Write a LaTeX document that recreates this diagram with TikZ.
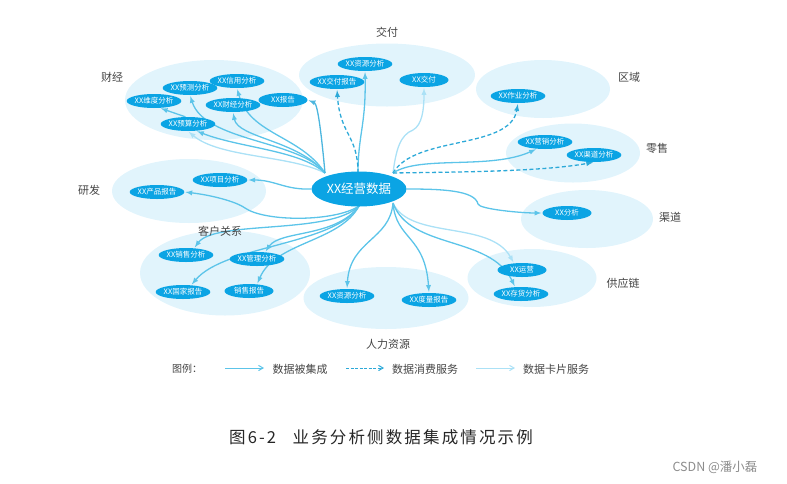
\documentclass[tikz,border=0pt]{standalone}
\usepackage{fontspec}
\setmainfont{Noto Sans CJK SC}
\newfontfamily\capfont[LetterSpace=13]{Noto Sans CJK SC}
\usepackage{xcolor}
\usepackage{tikz}
\usetikzlibrary{arrows,shapes}
\definecolor{hubblue}{HTML}{0BA4E4}
\definecolor{areablue}{HTML}{E1F4FC}
\definecolor{linkblue}{HTML}{5CC4E9}
\definecolor{dashblue}{HTML}{2CA9D8}
\definecolor{lightblue}{HTML}{ABE1F6}
\definecolor{labelgray}{HTML}{444444}
\pgfdeclarelayer{under}
\pgfsetlayers{under,main}
\tikzset{
  area/.style={ellipse,fill=areablue,inner sep=0pt},
  report/.style={ellipse,fill=hubblue,text=white,font=\fontsize{7.5}{8}\selectfont,inner sep=0pt,minimum width=49pt,minimum height=14pt},
  hub/.style={ellipse,fill=hubblue,text=white,font=\fontsize{12.5}{14}\selectfont,inner sep=0pt,minimum width=95pt,minimum height=35pt},
  title/.style={text=labelgray,font=\fontsize{11}{13}\selectfont,inner sep=0pt},
  integrated/.style={draw=linkblue,line width=1.3pt,-latex,shorten >=1pt},
  consumed/.style={draw=dashblue,line width=1.3pt,dashed,dash pattern=on 4pt off 2.5pt,-latex,shorten >=1pt},
  card/.style={draw=lightblue,line width=1.3pt,-latex,shorten >=1pt},
  legendtip/.style={-angle 60,shorten >=0pt,line width=1pt}
}
\begin{document}
\begin{tikzpicture}[x=1pt,y=-1pt]
\useasboundingbox (0,0) rectangle (787,483);

% hub and reports
\node[hub] (hub) at (359,189) {XX经营数据};
\coordinate (hubnw) at (325,173);
\coordinate (hubn) at (358,173);
\coordinate (hubne) at (393,173);
\coordinate (hubsw) at (359,206);
\coordinate (hubse) at (393,203);

\node[report] (credit) at (237,81) {XX信用分析};
\node[report] (forecast) at (190,88) {XX预测分析};
\node[report] (dimension) at (154,101) {XX维度分析};
\node[report] (finance) at (233,105) {XX财经分析};
\node[report] (report) at (283,100) {XX报告};
\node[report] (budget) at (188,124) {XX预算分析};

\node[report] (resource) at (365,64) {XX资源分析};
\node[report] (payreport) at (337,82) {XX交付报告};
\node[report] (delivery) at (424,80) {XX交付};
\node[report] (operation) at (518,96) {XX作业分析};
\node[report] (marketing) at (545,142) {XX营销分析};
\node[report] (channel) at (594,155) {XX渠道分析};
\node[report] (analysis) at (567,213) {XX分析};

\node[report] (project) at (220,180) {XX项目分析};
\node[report] (product) at (157,192) {XX产品报告};
\node[report] (salesa) at (186,255) {XX销售分析};
\node[report] (manage) at (257,259) {XX管理分析};
\node[report] (country) at (183,292) {XX国家报告};
\node[report] (salesr) at (249,291) {销售报告};
\node[report] (hr) at (347,296) {XX资源分析};
\node[report] (measure) at (429,300) {XX度量报告};
\node[report] (running) at (522,270) {XX运营};
\node[report] (stock) at (521,294) {XX存货分析};

% area names
\node[title] (tfinance) at (112,77) {财经};
\node[title] (tdelivery) at (387,32) {交付};
\node[title] (tregion) at (629,77) {区域};
\node[title] (tretail) at (657,148) {零售};
\node[title] (tchannel) at (670,217) {渠道};
\node[title] (tsupply) at (623,283) {供应链};
\node[title] (thr) at (388,344) {人力资源};
\node[title] (tcustomer) at (220,231) {客户关系};
\node[title] (tresearch) at (89,190) {研发};

\begin{pgfonlayer}{under}
\node[area,minimum width=178pt,minimum height=80pt] (afinance) at (214,100) {};
\node[area,minimum width=176pt,minimum height=63pt] (adelivery) at (387,75) {};
\node[area,minimum width=134pt,minimum height=58pt] (aregion) at (543,89) {};
\node[area,minimum width=134pt,minimum height=59pt] (aretail) at (573,153) {};
\node[area,minimum width=132pt,minimum height=58pt] (achannel) at (587,219) {};
\node[area,minimum width=154pt,minimum height=64pt] (aresearch) at (189,191) {};
\node[area,minimum width=170pt,minimum height=85pt] (acustomer) at (225,273) {};
\node[area,minimum width=165pt,minimum height=62pt] (ahr) at (386,298) {};
\node[area,minimum width=129pt,minimum height=58pt] (asupply) at (532,278) {};

% finance
\draw[card] (hubnw) .. controls (290,155) and (220,158) .. (budget.south);
\draw[integrated] (hubnw) .. controls (300,150) and (240,148) .. (budget.-40);
\draw[integrated] (hubnw) .. controls (300,140) and (205,142) .. (forecast.south);
\draw[integrated] (hubnw) .. controls (298,140) and (238,138) .. (finance.south);
\draw[integrated] (hubnw) .. controls (300,135) and (250,135) .. (credit.south);
\draw[integrated] (budget.110) -- (dimension.-50);
\draw[integrated,draw=dashblue!85] (hubnw) .. controls (322,140) and (318,104) .. (report.east);

% delivery
\draw[integrated] (hubn) .. controls (358,135) and (366,125) .. (resource.south);
\draw[consumed] (hubn) .. controls (358,135) and (340,135) .. (payreport.south);
\draw[card] (hubne) .. controls (396,150) and (400,135) .. (413,130) .. controls (422,125) and (424,110) .. (delivery.south);

% region and retail
\draw[consumed] (hubne) .. controls (415,135) and (510,150) .. (operation.south);
\draw[integrated] (hubne) .. controls (420,155) and (490,170) .. (marketing.-140);
\draw[consumed] (hubne) .. controls (450,172) and (540,172) .. (channel.south);

% channel, research
\draw[integrated] (hub.east) .. controls (440,189) and (475,190) .. (478,204) .. controls (479,209) and (520,213) .. (analysis.west);
\draw[integrated] (hub.west) .. controls (285,190) and (275,180) .. (project.east);
\draw[integrated] (hubsw) .. controls (335,222) and (265,222) .. (245,208) .. controls (235,201) and (210,195) .. (product.east);

% customer
\draw[integrated] (hubsw) .. controls (330,235) and (215,220) .. (salesa.40);
\draw[integrated] (hubsw) .. controls (335,238) and (280,230) .. (manage.40);
\draw[integrated] (hubsw) .. controls (335,245) and (225,245) .. (country.40);
\draw[integrated] (hubsw) .. controls (340,242) and (275,242) .. (salesr.40);

% human resources
\draw[integrated] (hubse) .. controls (390,240) and (350,240) .. (hr.north);
\draw[integrated] (hubse) .. controls (396,240) and (425,235) .. (measure.north);

% supply chain
\draw[card] (hubse) .. controls (410,240) and (490,220) .. (running.140);
\draw[integrated] (hubse) .. controls (410,250) and (490,235) .. (stock.130);
\end{pgfonlayer}

% legend
\node[text=labelgray,font=\fontsize{10}{12}\selectfont,inner sep=0pt] (legend) at (187,369) {图例：};
\node[text=labelgray,font=\fontsize{11}{13}\selectfont,inner sep=0pt] (lgone) at (300,369) {数据被集成};
\node[text=labelgray,font=\fontsize{11}{13}\selectfont,inner sep=0pt] (lgtwo) at (425,369) {数据消费服务};
\node[text=labelgray,font=\fontsize{11}{13}\selectfont,inner sep=0pt] (lgthree) at (556,369) {数据卡片服务};
\coordinate (lgonea) at (225,368);
\coordinate (lgoneb) at (264,368);
\coordinate (lgtwoa) at (346,368);
\coordinate (lgtwob) at (384,368);
\coordinate (lgthreea) at (476,368);
\coordinate (lgthreeb) at (515,368);
\draw[integrated,legendtip] (lgonea) -- (lgoneb);
\draw[consumed,legendtip,dash pattern=on 3pt off 1.5pt] (lgtwoa) -- (lgtwob);
\draw[card,legendtip] (lgthreea) -- (lgthreeb);

% caption and mark
\node[inner sep=0pt,text=black!85] (caption) at (381,437) {\capfont\fontsize{16.5}{20}\selectfont 图6-2\quad 业务分析侧数据集成情况示例};
\node[inner sep=0pt,text=black!45,font=\fontsize{12.5}{14}\selectfont] (mark) at (715,467) {CSDN @潘小磊};
\end{tikzpicture}
\end{document}
